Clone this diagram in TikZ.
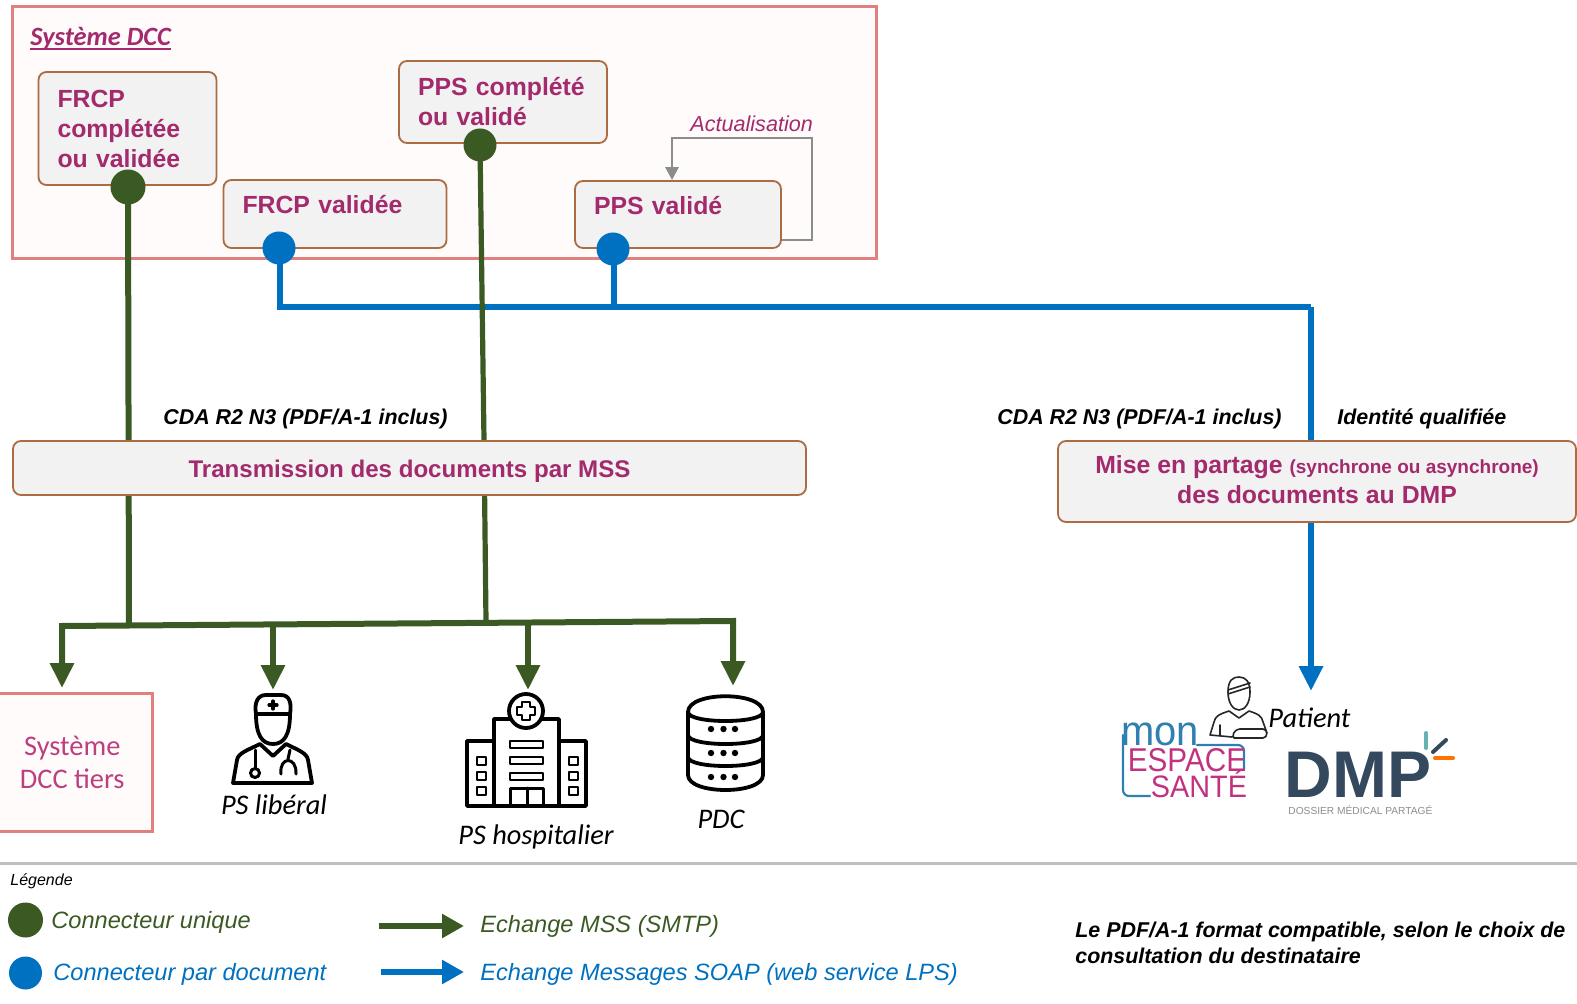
\documentclass[tikz,border=0pt]{standalone}
\usepackage{fontspec}
\setmainfont{Liberation Sans}
\newfontfamily\carl{Carlito}
\usetikzlibrary{arrows.meta,backgrounds}
\definecolor{mag}{HTML}{A32A6C}
\definecolor{magl}{HTML}{BC3F80}
\definecolor{grn}{HTML}{3B5A23}
\definecolor{blu}{HTML}{0070C0}
\definecolor{edge}{HTML}{AC6C42}
\definecolor{sysedge}{HTML}{E28080}
\definecolor{sysfill}{HTML}{FFFBFA}
\definecolor{greyfill}{HTML}{F2F2F2}
\definecolor{dmpblue}{HTML}{34495E}
\definecolor{mesblue}{HTML}{2F7FB0}
\definecolor{mespink}{HTML}{C2337F}
\tikzset{
  sysbox/.style={draw=sysedge,fill=sysfill,line width=1.5pt,inner sep=0pt},
  docbox/.style={draw=edge,fill=greyfill,line width=.9pt,rounded corners=4pt,inner xsep=9.5pt,inner ysep=0pt,align=left,text=mag,font=\fontsize{12.4}{15}\selectfont\bfseries},
  wide/.style={docbox,align=center,inner xsep=0pt},
  gdot/.style={circle,fill=grn,inner sep=0pt},
  bdot/.style={circle,fill=blu,inner sep=0pt},
  gline/.style={draw=grn,line width=3pt},
  bline/.style={draw=blu,line width=3.4pt},
  gtip/.style={gline,-{Triangle[width=11.5pt,length=12.5pt]}},
  btip/.style={bline,-{Triangle[width=11.5pt,length=12.5pt]}},
  loopline/.style={draw=black!45,line width=1.4pt,-{Triangle[width=6.5pt,length=6.5pt]}},
  lab/.style={inner sep=0pt,anchor=west,font=\fontsize{10.7}{13}\selectfont\bfseries\itshape},
  icolab/.style={inner sep=0pt,font=\carl\fontsize{14.2}{16}\selectfont\itshape},
  legtxt/.style={inner sep=0pt,anchor=west,font=\fontsize{11.8}{14}\selectfont\itshape},
  ico/.style={draw=black,line width=1.9pt,line join=round,line cap=round},
  icothin/.style={draw=black!85,line width=.8pt,line join=round,line cap=round}
}
\begin{document}
\begin{tikzpicture}[x=0.5pt,y=-0.5pt]
\useasboundingbox (0,0) rectangle (1577,1004);
% document boxes
\node[docbox,minimum height=56.5pt,text width=70pt] (frcpc) at (127.5,128.5) {FRCP\\complétée\\ou validée};
\node[docbox,minimum height=41pt,text width=85pt] (ppsc) at (503,102) {PPS complété\\ou validé};
\node[docbox,minimum height=34pt,text width=92.5pt] (frcpv) at (335,214) {FRCP validée\\[-5.5pt]~};
\node[docbox,minimum height=33.5pt,text width=84pt] (ppsv) at (678,214.5) {PPS validé\\[-5.5pt]~};
\node[inner sep=0pt,anchor=west,text=mag,font=\fontsize{10.8}{13}\selectfont\itshape] (actu) at (690,124) {Actualisation};
% connector dots
\node[gdot,minimum size=17.5pt] (dotA) at (128,187) {};
\node[gdot,minimum size=16.5pt] (dotB) at (480,145) {};
\node[bdot,minimum size=16.5pt] (dotC) at (279,248) {};
\node[bdot,minimum size=16.5pt] (dotD) at (613,249) {};
% wide boxes
\node[wide,minimum width=396.5pt,minimum height=27pt] (tx) at (409.5,468) {~\\[-3pt]{\fontsize{12.05}{15}\selectfont Transmission des documents par MSS}};
\node[wide,minimum width=259pt,minimum height=40.5pt] (dmpbox) at (1317,481.5) {\raisebox{2pt}{Mise en partage {\fontsize{9.5}{15}\selectfont (synchrone ou asynchrone)}}\\\raisebox{2pt}{des documents au DMP}};
\node[lab] (cda1) at (163,419) {CDA R2 N3 (PDF/A-1 inclus)};
\node[lab] (cda2) at (997,419) {CDA R2 N3 (PDF/A-1 inclus)};
\node[lab] (ident) at (1337,419) {Identité qualifiée};
% named points
\coordinate (busL) at (62,626);
\coordinate (busR) at (733,621);
\coordinate (busA) at (129,625);
\coordinate (busB) at (273,624);
\coordinate (busC) at (486,622);
\coordinate (busD) at (528,622);
\coordinate (tipA) at (62,688);
\coordinate (tipB) at (273,690);
\coordinate (tipC) at (528,690);
\coordinate (tipD) at (733,686);
\coordinate (tipE) at (1311,691);
\coordinate (bendC) at (280,307);
\coordinate (bendD) at (614,307);
\coordinate (bendE) at (1311,307);
\coordinate (loopA) at (812,240);
\coordinate (loopB) at (812,138);
\coordinate (loopC) at (672,138);
% receivers
\node[sysbox,minimum width=80.25pt,minimum height=69pt,align=center,text=magl,font=\carl\fontsize{14.2}{16.5}\selectfont] (tiers) at (72.25,762) {Système\\DCC tiers};
\node[icolab] (lib) at (274,805) {PS libéral};
\node[icolab] (hosp) at (536,837) {PS hospitalier};
\node[icolab] (pdc) at (721,819) {PDC};
\node[icolab,anchor=west] (patient) at (1268,718) {Patient};
% system frame and connectors behind the nodes
\begin{pgfonlayer}{background}
\node[sysbox,minimum width=432pt,minimum height=125.75pt] (sys) at (444,132.75) {};
\draw[bline] (bendC |- dotC) -- (bendC) -- (bendE);
\draw[bline] (bendD |- dotD) -- (bendD);
\draw[btip] (bendE) -- (tipE);
\draw[gline] (dotA.center) -- (busA);
\draw[gline,line width=2.6pt] (dotB.center) -- (484,441) -- (busC);
\draw[gline,{Triangle[width=11.5pt,length=12.5pt]}-{Triangle[width=11.5pt,length=12.5pt]}] (tipA) -- (busL) -- (busR) -- (tipD);
\draw[gtip] (busB) -- (tipB);
\draw[gtip] (busD) -- (tipC);
\draw[loopline] (ppsv.east |- loopA) -- (loopA) -- (loopB) -- (loopC) -- (loopC |- ppsv.north);
\end{pgfonlayer}
\node[inner sep=0pt,anchor=west,text=mag,font=\carl\fontsize{13.2}{16}\selectfont\bfseries\itshape] (systitle) at (30,38) {Système DCC};
\draw[mag,line width=.7pt] (30,49) -- (171,49);
% doctor icon
\draw[ico] (256,714) .. controls (254,702) and (258,695) .. (266,695) -- (281,695) .. controls (289,695) and (292,702) .. (290,714) -- cycle;
\draw[ico] (256,714) .. controls (256,735) and (262,744) .. (273,744) .. controls (284,744) and (290,735) .. (290,714);
\draw[ico,line width=1.6pt] (269,705) -- (277,705) (273,701) -- (273,709);
\draw[ico] (233,783) -- (237,760) .. controls (238,753) and (248,750) .. (260,744) -- (273,756) -- (286,744) .. controls (298,750) and (307,753) .. (308,760) -- (312,783) -- cycle;
\draw[ico,line width=1.5pt] (255,750) -- (255,768);
\draw[ico,line width=1.5pt] (255,773) circle[radius=4.5];
\draw[ico,line width=1.5pt] (290,750) -- (288,759) (281,774) .. controls (279,756) and (297,756) .. (296,774);
% hospital icon
\draw[ico] (494,741) -- (467,741) -- (467,806) -- (586,806) -- (586,741) -- (559,741);
\draw[ico] (494,806) -- (494,719) -- (510,719) (542,719) -- (559,719) -- (559,806);
\draw[ico,fill=white] (526,711) circle[radius=17];
\draw[ico,line width=1.4pt] (522,702) -- (530,702) -- (530,707) -- (535,707) -- (535,715) -- (530,715) -- (530,720) -- (522,720) -- (522,715) -- (517,715) -- (517,707) -- (522,707) -- cycle;
\foreach \yy in {741,757,773}{\draw[ico,line width=1.4pt] (510,\yy) rectangle (543,\yy+7);}
\foreach \yy in {757,772,787}{\draw[ico,line width=1.4pt] (477,\yy) rectangle (486,\yy+8);\draw[ico,line width=1.4pt] (569,\yy) rectangle (578,\yy+8);}
\draw[ico,line width=1.5pt] (510,806) -- (510,788) -- (543,788) -- (543,806) (527,788) -- (527,806);
% database icon
\draw[ico] (688,712) .. controls (688,691) and (763,691) .. (763,712) -- (763,775) .. controls (763,795) and (688,795) .. (688,775) -- cycle;
\draw[ico] (688,712) .. controls (688,724) and (763,724) .. (763,712);
\draw[ico] (688,735) .. controls (688,747) and (763,747) .. (763,735);
\draw[ico] (688,757) .. controls (688,769) and (763,769) .. (763,757);
\foreach \yy in {729,753,777}{\foreach \xx in {711,723.5,735}{\fill (\xx,\yy) circle[radius=3.2];}}
% patient icon
\draw[icothin] (1228,692) .. controls (1228,680) and (1233,677) .. (1239,677) .. controls (1246,677) and (1250,682) .. (1250,692) .. controls (1250,703) and (1245,710) .. (1239,710) .. controls (1233,710) and (1228,703) .. (1228,692) -- cycle;
\draw[icothin] (1228,690) -- (1250,683) (1228,694) -- (1250,687);
\draw[icothin] (1229,711) .. controls (1220,714) and (1215,716) .. (1214,722) -- (1210,735) -- (1232,737) (1249,711) .. controls (1258,714) and (1262,716) .. (1263,722) -- (1267,733) (1229,711) -- (1239,718) -- (1249,711) (1220,725) -- (1220,735) (1234,738) -- (1263,738) .. controls (1268,738) and (1268,729) .. (1263,729) -- (1240,729) .. controls (1233,730) and (1232,736) .. (1234,738);
% Mon Espace Santé logo
\draw[mesblue,line width=1.1pt,line cap=round,rounded corners=3pt] (1123,735) -- (1123,796) -- (1150,796);
\draw[mesblue,line width=1.1pt,line cap=round,rounded corners=3pt] (1197,745) -- (1244,745) -- (1244,770);
\node[inner sep=0pt,text=mesblue,xscale=.95,transform shape,font=\fontsize{21}{21}\selectfont] (mon) at (1160,734) {mon};
\node[inner sep=0pt,text=mespink,xscale=.9,transform shape,font=\fontsize{16.5}{17}\selectfont] (espace) at (1187,760) {ESPACE};
\node[inner sep=0pt,text=mespink,xscale=.93,transform shape,font=\fontsize{15.5}{16}\selectfont] (sante) at (1199,784) {SANTÉ};
% DMP logo
\node[inner sep=0pt,anchor=west,text=dmpblue,font=\fontsize{33}{33}\selectfont\bfseries] (dmp) at (1284,775) {DMP};
\draw[draw=teal!60,line width=2pt,line cap=round] (1426,733) -- (1426,748);
\draw[draw=dmpblue,line width=2pt,line cap=round] (1446,740) -- (1433,752);
\draw[draw=orange!90!red,line width=2pt,line cap=round] (1435,758) -- (1453,758);
\node[inner sep=0pt,anchor=west,text=black!45,font=\fontsize{5.1}{6}\selectfont] (dmpsub) at (1288,810) {DOSSIER MÉDICAL PARTAGÉ};
% legend
\draw[draw=black!25,line width=1.5pt] (0,863) -- (1577,863);
\node[inner sep=0pt,anchor=west,font=\fontsize{8}{10}\selectfont\itshape] (leg) at (10,881) {Légende};
\node[gdot,minimum size=17.5pt] (legG) at (25.5,920) {};
\node[bdot,minimum size=16.5pt] (legB) at (25.5,973) {};
\node[legtxt,text=grn] (legGt) at (51,922) {Connecteur unique};
\node[legtxt,text=blu] (legBt) at (53,974) {Connecteur par document};
\coordinate (a1) at (379,926); \coordinate (a2) at (464,926);
\coordinate (b1) at (381,972); \coordinate (b2) at (464,972);
\draw[gline,-{Triangle[width=11.5pt,length=11pt]}] (a1) -- (a2);
\draw[bline,-{Triangle[width=11.5pt,length=11pt]}] (b1) -- (b2);
\node[legtxt,text=grn] (legMt) at (480,926) {Echange MSS (SMTP)};
\node[legtxt,text=blu] (legSt) at (480,974) {Echange Messages SOAP (web service LPS)};
\node[inner sep=0pt,anchor=west,align=left,font=\fontsize{10.7}{13}\selectfont\bfseries\itshape] (note) at (1075,942.5) {Le PDF/A-1 format compatible, selon le choix de\\consultation du destinataire};
\end{tikzpicture}
\end{document}
